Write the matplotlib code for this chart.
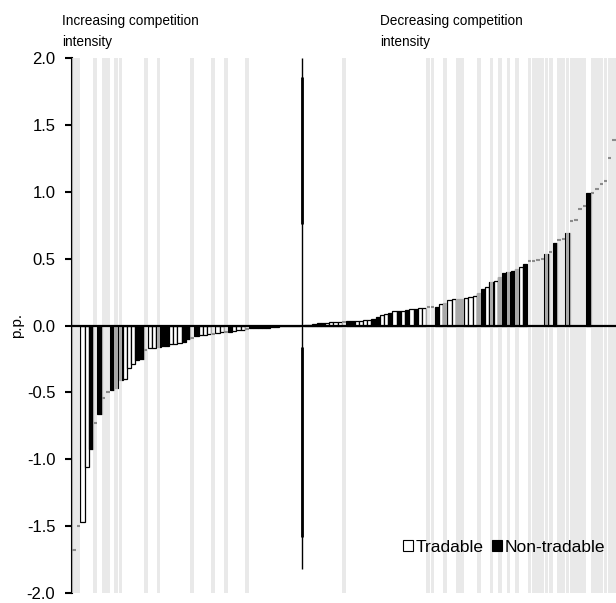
import matplotlib
matplotlib.use('Agg')
import matplotlib.pyplot as plt
from matplotlib.patches import Patch
import numpy as np

plt.rcParams['font.family'] = ['Liberation Sans', 'DejaVu Sans']
plt.rcParams['axes.unicode_minus'] = False

# sectores con mayor intensidad competitiva (ordenados)
left_vals = [-1.68, -1.50, -1.47, -1.06, -0.92, -0.73, -0.66, -0.54, -0.50, -0.48,
             -0.47, -0.41, -0.40, -0.32, -0.29, -0.26, -0.25, -0.18, -0.17, -0.165,
             -0.16, -0.155, -0.15, -0.14, -0.135, -0.13, -0.125, -0.10, -0.09, -0.08,
             -0.07, -0.07, -0.065, -0.062, -0.055, -0.05, -0.05, -0.048, -0.04, -0.035,
             -0.03, -0.025, -0.02, -0.02, -0.018, -0.016, -0.015, -0.013, -0.01, 0.0,
             0.0, 0.0, 0.0, 0.0]
left_kind = list("TTTTNTNTTNNNTTTNNTTTNNNTTTNNTNTTTTTTTNTTTTNNNNNNNNNNNN")
left_shade = [1, 1, 0, 0, 0, 1, 0, 1, 1, 0,
              1, 1, 0, 0, 0, 0, 0, 1, 0, 0,
              1, 0, 0, 0, 0, 0, 0, 0, 1, 0,
              0, 0, 0, 1, 0, 0, 1, 0, 0, 0,
              0, 1, 0, 0, 0, 0, 0, 0, 0, 0,
              0, 0, 0, 0]

# sectores con menor intensidad competitiva
right_vals = [0.004, 0.006, 0.01, 0.015, 0.018, 0.022, 0.024, 0.025, 0.025, 0.026,
              0.03, 0.032, 0.035, 0.037, 0.038, 0.04, 0.05, 0.065, 0.08, 0.085,
              0.09, 0.105, 0.11, 0.112, 0.115, 0.12, 0.125, 0.13, 0.13, 0.14,
              0.14, 0.14, 0.16, 0.165, 0.19, 0.195, 0.195, 0.195, 0.205, 0.21,
              0.22, 0.24, 0.275, 0.29, 0.325, 0.33, 0.36, 0.39, 0.40, 0.41,
              0.42, 0.44, 0.46, 0.48, 0.485, 0.49, 0.50, 0.535, 0.55, 0.615,
              0.64, 0.65, 0.69, 0.78, 0.79, 0.87, 0.895, 0.99, 0.99, 1.02,
              1.055, 1.08, 1.255, 1.39]
right_kind = list("NNNNNTTTTTNNTTTTNNTTNTNTNTNTTTTNTNTTNNTTTNNTNTNNNNNTNTTTTNTNTTNTTTTNTTTTTT")
right_shade = [0, 0, 0, 0, 0, 0, 0, 0, 0, 1,
               0, 0, 0, 0, 0, 0, 0, 0, 0, 0,
               0, 0, 0, 0, 0, 0, 0, 0, 0, 1,
               1, 0, 0, 1, 0, 0, 1, 1, 0, 0,
               0, 1, 0, 0, 1, 0, 1, 0, 1, 0,
               1, 0, 0, 1, 1, 1, 1, 1, 1, 0,
               1, 1, 1, 1, 1, 1, 1, 0, 1, 1,
               1, 1, 1, 1]

# linea separadora (valores en p.p.)
sep_full = (-1.82, 2.0)
sep_thick = [(0.76, 1.86), (-1.58, -0.16)]

yticks = [-2.0, -1.5, -1.0, -0.5, 0.0, 0.5, 1.0, 1.5, 2.0]

vals = np.array(left_vals + [0.0] + right_vals)
kind = np.array(left_kind + ['S'] + right_kind)
shade = np.array(left_shade + [0] + right_shade) == 1
x = np.arange(len(vals))
sep_pos = len(left_vals)

fig = plt.figure(figsize=(6.16, 6.03), dpi=100)
ax = fig.add_axes([72 / 616, 1 - 593 / 603, 1 - 72 / 616, (593 - 58) / 603])

# barras normales (fuera de las franjas) y no transables
normal = (kind == 'N') | ((kind == 'T') & ~shade)
colores = np.where(kind == 'T', 'white', 'black')
ax.bar(x[normal], vals[normal], width=1.0, color=colores[normal],
       edgecolor='black', linewidth=0.9, zorder=2)

# transables dentro de franjas: solo se ve el borde superior
tsh = (kind == 'T') & shade
ax.hlines(vals[tsh], x[tsh] - 0.4, x[tsh] + 0.4, color='#8c8c8c', lw=1.5, zorder=4)

# franjas grises de fondo
ax.bar(x[shade], 4.0, bottom=-2.0, width=0.9, color='#e2e2e2', alpha=0.75,
       linewidth=0, zorder=3)

ax.axhline(0, color='black', lw=1.6, zorder=5)
ax.vlines(sep_pos, sep_full[0], sep_full[1], color='black', lw=1.0, zorder=5)
for a, b in sep_thick:
    ax.vlines(sep_pos, a, b, color='black', lw=2.0, zorder=5)

ax.set_xlim(-0.5, len(vals) - 0.5)
ax.set_ylim(-2.0, 2.0)
ax.set_yticks(yticks)
ax.set_yticklabels([f"{v:.1f}" for v in yticks], fontsize=12)
ax.tick_params(axis='y', length=5, width=1.5, pad=7)
ax.set_xticks([])
for s in ['top', 'right', 'bottom']:
    ax.spines[s].set_visible(False)
ax.spines['left'].set_linewidth(1.5)
ax.set_ylabel('p.p.', fontsize=11)
ax.yaxis.set_label_coords(-0.088, 0.5)

fig.text(62 / 616, 0.976, 'Increasing competition\nintensity', fontsize=9.8,
         ha='left', va='top', linespacing=1.6)
fig.text(380 / 616, 0.976, 'Decreasing competition\nintensity', fontsize=9.8,
         ha='left', va='top', linespacing=1.6)

handles = [Patch(facecolor='white', edgecolor='black', linewidth=0.8),
           Patch(facecolor='black', edgecolor='black', linewidth=0.8)]
fig.legend(handles, ['Tradable', 'Non-tradable'], ncol=2, loc='center',
           bbox_to_anchor=(0.818, 1 - 547 / 603), frameon=False, fontsize=12.5,
           handlelength=0.55, handleheight=0.55, handletextpad=0.15,
           columnspacing=0.5, borderpad=0)

fig.savefig('out.png', dpi=100)
plt.close()
